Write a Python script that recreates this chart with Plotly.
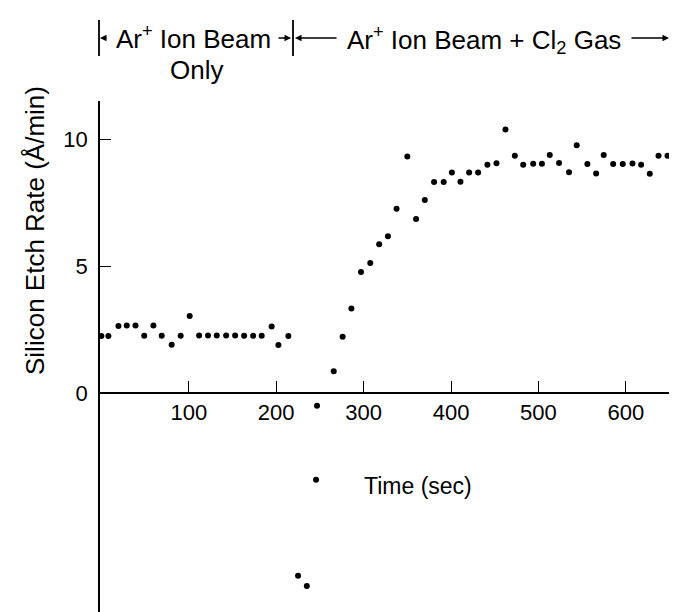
import plotly.graph_objects as go

# ---- data ----
time_sec = [0, 8, 19.5, 29, 39, 49, 59.5, 69, 80.4, 90.7, 101, 111.8, 122, 132, 142.7,
            153, 163.3, 173.6, 183.4, 194.8, 202.5, 213.9, 225, 235, 245.6, 246.7,
            265.8, 276, 286, 297, 307.6, 317.8, 327.8, 337.7, 350, 360, 370, 380.6,
            391.6, 401, 410.8, 420.7, 431, 441.6, 452, 462.3, 473, 482.6, 494, 504,
            513, 523.6, 535, 543.8, 556, 566, 574.7, 585.5, 596.5, 607.6, 617.5,
            627.4, 637.4, 647.7]
etch_rate = [2.25, 2.25, 2.65, 2.67, 2.67, 2.26, 2.67, 2.26, 1.91, 2.26, 3.04, 2.27,
             2.27, 2.27, 2.27, 2.27, 2.26, 2.26, 2.26, 2.63, 1.9, 2.25, -7.21, -7.62,
             -3.42, -0.5, 0.86, 2.22, 3.34, 4.78, 5.13, 5.87, 6.19, 7.28, 9.34, 6.87,
             7.62, 8.33, 8.33, 8.71, 8.34, 8.71, 8.71, 9.01, 9.07, 10.4, 9.37, 9.01,
             9.05, 9.05, 9.4, 9.08, 8.72, 9.78, 9.04, 8.67, 9.4, 9.04, 9.04, 9.06,
             9.01, 8.66, 9.37, 9.37]

x_tick_vals = [100, 200, 300, 400, 500, 600]
x_tick_text = ["100", "200", "300", "400", "500", "600"]
y_tick_vals = [0, 5, 10]
y_tick_text = ["0", "5", "10"]

x_title = "Time (sec)"
y_title = "Silicon Etch Rate (Å/min)"
phase1_label = "Ar<sup>+</sup> Ion Beam"
phase1_label2 = "Only"
phase2_label = "Ar<sup>+</sup> Ion Beam + Cl<sub>2</sub> Gas"

# ---- layout geometry ----
W, H = 677, 612
ML, MR, MT, MB = 92, 0, 93, 0
PW, PH = W - ML - MR, H - MT - MB
X_RANGE = [-1.6, 667.7]
Y_RANGE = [-8.96, 11.53]
x_axis_pos = (0 - Y_RANGE[0]) / (Y_RANGE[1] - Y_RANGE[0])

FONT = "Liberation Sans, Arial, Helvetica, sans-serif"


def px(xp):
    return (xp - ML) / PW


def py(yp):
    return (H - yp) / PH


fig = go.Figure()
fig.add_trace(go.Scatter(
    x=time_sec, y=etch_rate, mode="markers",
    marker=dict(color="black", size=6),
    cliponaxis=False, showlegend=False,
))

annotations = []
shapes = []

# phase brackets
for xb in [91, 285, 663]:
    shapes.append(dict(type="line", xref="paper", yref="paper",
                       x0=px(xb), x1=px(xb), y0=py(12), y1=py(48),
                       line=dict(color="black", width=1.8)))

# arrows: (head_x, tail_x)
for head, tail in [(92, 100), (283, 269), (287, 330), (661, 622)]:
    annotations.append(dict(xref="paper", yref="paper", x=px(head), y=py(30),
                            axref="pixel", ayref="pixel", ax=tail - head, ay=0,
                            text="", showarrow=True, arrowhead=2, arrowsize=1,
                            arrowwidth=1.3, arrowcolor="black", standoff=0))

annotations += [
    dict(xref="paper", yref="paper", x=px(185), y=py(29), text=phase1_label,
         showarrow=False, xanchor="center", yanchor="middle",
         font=dict(size=26, color="black", family=FONT)),
    dict(xref="paper", yref="paper", x=px(188), y=py(62), text=phase1_label2,
         showarrow=False, xanchor="center", yanchor="middle",
         font=dict(size=26, color="black", family=FONT)),
    dict(xref="paper", yref="paper", x=px(476), y=py(32), text=phase2_label,
         showarrow=False, xanchor="center", yanchor="middle",
         font=dict(size=26, color="black", family=FONT)),
    dict(xref="paper", yref="paper", x=px(410), y=py(478), text=x_title,
         showarrow=False, xanchor="center", yanchor="middle",
         font=dict(size=23, color="black", family=FONT)),
    dict(xref="paper", yref="paper", x=px(27), y=py(223), text=y_title,
         showarrow=False, xanchor="center", yanchor="middle", textangle=-90,
         font=dict(size=26, color="black", family=FONT)),
]

fig.update_layout(
    width=W, height=H,
    margin=dict(l=ML, r=MR, t=MT, b=MB, pad=0),
    paper_bgcolor="white", plot_bgcolor="white",
    xaxis=dict(range=X_RANGE, anchor="free", position=x_axis_pos,
               showline=True, linecolor="black", linewidth=1.5,
               ticks="inside", ticklen=11, tickwidth=1.3, tickcolor="black",
               tickvals=x_tick_vals, ticktext=x_tick_text,
               showgrid=False, zeroline=False,
               tickfont=dict(size=22, color="black", family=FONT)),
    yaxis=dict(range=Y_RANGE, showline=True, linecolor="black", linewidth=1.5,
               ticks="inside", ticklen=11, tickwidth=1.3, tickcolor="black",
               tickvals=y_tick_vals, ticktext=y_tick_text,
               showgrid=False, zeroline=False, ticklabelstandoff=6,
               tickfont=dict(size=22, color="black", family=FONT)),
    annotations=annotations,
    shapes=shapes,
)

fig.write_html("out.html")
